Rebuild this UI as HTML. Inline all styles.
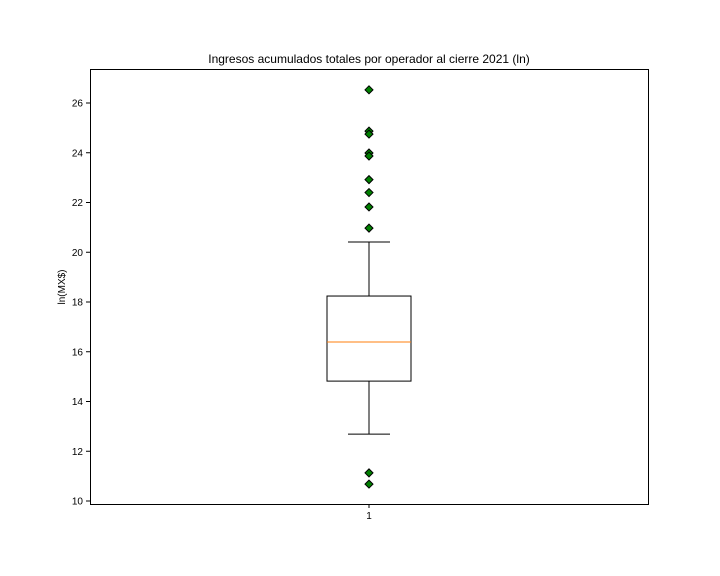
<!DOCTYPE html>
<html><head><meta charset="utf-8"><style>
body{margin:0;background:#fff;}
svg{display:block;font-family:"Liberation Sans","DejaVu Sans",sans-serif;}
</style></head><body>
<svg id="chart" width="720" height="576">
<rect width="720" height="576" fill="#fff"/>
<text x="369" y="63" text-anchor="middle" font-size="12">Ingresos acumulados totales por operador al cierre 2021 (ln)</text>
<text transform="translate(65,287) rotate(-90)" text-anchor="middle" font-size="10">ln(MX$)</text>
<g id="ticks"></g>
<g id="marks"></g>
<rect x="90.5" y="69.5" width="558" height="435" fill="none" stroke="#000" stroke-width="1"/>
</svg>
<script>
const categories = ["1"];
const stats = [20.41, 18.24, 16.39, 14.82, 12.69]; // upper whisker, q3, median, q1, lower whisker
const outliers = [26.53, 24.87, 24.75, 23.99, 23.87, 22.92, 22.40, 21.82, 20.97, 11.13, 10.68];
const yTicks = [10, 12, 14, 16, 18, 20, 22, 24, 26];

const NS = "http://www.w3.org/2000/svg";
const y = v => 501 - (v - 10) * 24.875;
const x = i => 369;
function mk(tag, attrs, parent) {
  const e = document.createElementNS(NS, tag);
  for (const k in attrs) e.setAttribute(k, attrs[k]);
  parent.appendChild(e);
  return e;
}
const tg = document.getElementById('ticks');
yTicks.forEach(t => {
  const l = mk('line', {x1: 86, x2: 90, y1: y(t), y2: y(t), stroke: '#000'}, tg);
  
  
  const tx = mk('text', {x: 83, y: y(t) + 3.5, 'text-anchor': 'end', 'font-size': 10}, tg);
  tx.textContent = t;
  
  
});
categories.forEach((c, i) => {
  const l = mk('line', {x1: x(i), x2: x(i), y1: 504, y2: 508, stroke: '#000'}, tg);
  
  
  const tx = mk('text', {x: x(i), y: 519, 'text-anchor': 'middle', 'font-size': 10}, tg);
  tx.textContent = c;
  
  
});
const mg = document.getElementById('marks');
categories.forEach((c, i) => {
  const cx = x(i);
  const [hi, q3, med, q1, lo] = stats;
  const w1 = mk('line', {x1: cx, x2: cx, y1: y(q3), y2: y(hi), stroke: '#000'}, mg);
  
  
  const w2 = mk('line', {x1: cx, x2: cx, y1: y(q1), y2: y(lo), stroke: '#000'}, mg);
  
  
  const c1 = mk('line', {x1: cx - 21, x2: cx + 21, y1: y(hi), y2: y(hi), stroke: '#000'}, mg);
  
  
  const c2 = mk('line', {x1: cx - 21, x2: cx + 21, y1: y(lo), y2: y(lo), stroke: '#000'}, mg);
  
  
  const b = mk('rect', {x: cx - 42, y: y(q3), width: 84, height: y(q1) - y(q3), fill: 'none', stroke: '#000'}, mg);
  
  
  const m = mk('line', {x1: cx - 42, x2: cx + 42, y1: y(med), y2: y(med), stroke: '#ff7f0e'}, mg);
  
  
  outliers.forEach(v => {
    const py = y(v), s = 4;
    const p = mk('polygon', {points: `${cx},${py - s} ${cx + s},${py} ${cx},${py + s} ${cx - s},${py}`, fill: 'green', stroke: '#000', 'stroke-width': 1}, mg);
    
    
  });
});
</script>
</body></html>
